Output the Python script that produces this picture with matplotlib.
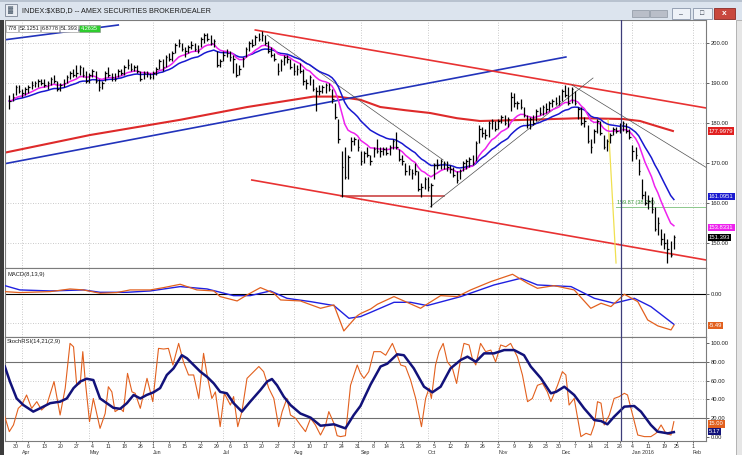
import numpy as np
import pandas as pd
import matplotlib
matplotlib.use('Agg')
import matplotlib.pyplot as plt
from matplotlib.patches import Rectangle
import matplotlib.transforms as mtrans

plt.rcParams['font.family'] = ['Liberation Sans', 'DejaVu Sans']

# ---------------- data ----------------
title = "INDEX:$XBD,D -- AMEX SECURITIES BROKER/DEALER"
data_row = ['778', '52.1251', '6.8778', '51.393', '4.2635']
start_date = '2015-03-26'
end_date = '2016-02-12'
anchor_date = '2015-03-30'
holidays = ['2015-04-03', '2015-05-25', '2015-07-03', '2015-09-07',
            '2015-11-26', '2015-12-25', '2016-01-01', '2016-01-18']

highs = [187, 187.5,
         189.5, 189.5, 188.5, 189,
         189.5, 190.5, 190.5, 191, 191,
         191, 190.5, 191.5, 192, 190.5,
         190, 191, 192, 193, 193.5,
         194.5, 194.5, 194, 193, 192.5,
         193.5, 193, 191, 190.5, 193,
         194, 192.5, 192.5, 193.5, 193.5,
         194.5, 196, 195, 194.5, 194.5,
         193, 193, 193, 192.5,
         193, 194, 196, 196, 197,
         197.5, 198, 200, 201, 200,
         199, 199.5, 200.5, 200, 199.5,
         201.5, 202.5, 202.5, 202, 201,
         198, 196, 198, 198.5,
         198, 197, 195, 194.5, 196.5,
         199, 200.5, 201, 202, 202.5,
         203, 202, 200.5, 199, 197.5,
         195, 196, 197, 197, 196,
         195, 194.5, 195, 193.5, 191,
         192, 191, 189, 189.5, 189.5,
         190, 190, 188.5, 185, 181,
         173, 174, 172, 176.5, 176.5,
         176, 173, 173, 174, 172,
         174, 176, 174, 174,
         174, 174.5, 176, 177.7, 173.5,
         172, 170, 169.5, 168.5, 170,
         168, 165, 166.5, 166.5, 165,
         170, 171, 171, 170.5, 170.5,
         169.5, 169, 168, 168.5, 170.5,
         171, 171.5, 172, 175.5, 179.5,
         179, 178.5, 180.5, 181, 180.5,
         181, 182, 182, 181.5, 187.7,
         187.5, 185.5, 186, 184, 182,
         181.5, 182, 183.5, 184, 184.5,
         185, 185.5, 186, 186.5,
         187, 188.5, 189.5, 189, 189,
         188, 184, 184, 181.5, 179.5,
         176, 178.5, 181, 180.5, 177,
         176, 177.5, 179, 179,
         180, 180.5, 180, 178.5,
         174.5, 174, 171, 166, 163,
         162, 161.5, 159, 156.5, 153.5,
         152.5, 151, 150.5, 152.1]

lows = [183.5, 185.5,
        187, 187.5, 186.5, 187,
        187.5, 188.5, 189, 189, 189.5,
        189, 188.5, 189.5, 190, 188,
        188, 189, 190, 191, 191.5,
        191.5, 192, 191.5, 190, 190,
        191.5, 190, 188, 188.5, 190.5,
        191.5, 190.5, 190.5, 191.5, 192,
        192, 193.5, 193, 193, 192.5,
        190.5, 191, 191.5, 191,
        191, 192, 193.5, 193, 194,
        195.5, 195.5, 197.5, 199, 198,
        196.5, 197.5, 198.5, 198, 197.5,
        199, 200, 200.5, 199.5, 199,
        194, 194, 195.5, 196.5,
        195.5, 192.5, 191.5, 192, 194,
        196.5, 198, 199, 199.5, 200.5,
        200.5, 199.5, 197.5, 196.5, 195.5,
        192, 193, 194.5, 195, 193.5,
        192, 192, 192.5, 189.5, 188.5,
        189.5, 188, 183, 187, 187.5,
        187.5, 188, 185, 181, 175,
        161.5, 166, 166, 173, 174.5,
        173, 169.5, 170, 171.5, 169.5,
        171.5, 172.5, 171.5, 172,
        172, 172, 173.5, 173.5, 170.5,
        169.5, 167, 167, 166, 167,
        163, 161.5, 163.5, 163, 159,
        166, 168.5, 168.5, 168.5, 168,
        167.5, 166.5, 165, 166, 168,
        168.5, 169, 169.5, 170.5, 175,
        176.5, 176, 176.5, 178.5, 178,
        178.5, 180, 179.5, 179, 183,
        184, 183.5, 183.5, 181.5, 178.7,
        178.5, 179.5, 180.5, 182, 182,
        182.5, 183, 184, 184.5,
        184.5, 185.5, 186.5, 184.5, 185,
        184.5, 181, 179.5, 179, 175,
        172.5, 175, 177.5, 177, 173.5,
        173, 175, 177, 177.5,
        177.5, 178, 177.5, 176,
        170.5, 171, 167, 161, 159.5,
        158.5, 157.5, 153, 152, 149.5,
        148.5, 145, 146.5, 148.5]

closes = [185.5, 186.5,
          189, 188, 187.5, 188.5,
          189, 189.5, 190, 190.5, 190,
          189.5, 190, 191, 190.5, 188.5,
          189.5, 190, 191.5, 192.5, 192,
          192.5, 194, 192, 190.5, 192,
          193, 190.5, 189, 190, 192.5,
          192, 191.5, 191, 193, 192.5,
          194, 194.5, 193.5, 194, 193,
          191, 192.5, 192.5, 191.5,
          192.5, 193.5, 195.5, 194, 196.5,
          196, 197.5, 199.5, 200, 198.5,
          198, 199, 199.5, 198.5, 198,
          201, 202, 201, 200, 200.5,
          194.5, 195.5, 197, 197.5,
          196.5, 196, 192, 193.5, 196,
          198.5, 200, 199.5, 201.5, 201,
          202, 200, 198, 197, 196,
          193, 195.5, 196.5, 196, 194,
          193, 193.5, 193, 190.5, 190,
          191.5, 188.5, 188, 188, 189,
          189.5, 188.5, 186, 181.5, 176,
          169, 166.5, 171.5, 175.5, 176,
          174, 170.5, 172.5, 172, 170.5,
          173.5, 173, 173, 173.5,
          172.5, 174, 175.5, 174, 171,
          170.5, 168, 168.5, 167.5, 168,
          163.5, 164, 166, 164, 164.5,
          169.5, 169.5, 170.5, 170, 169,
          168.5, 167, 165.7, 168, 170,
          170.5, 171, 170, 175, 178.5,
          177.5, 177, 180, 180.5, 178.5,
          180.5, 181.5, 180, 181, 186.5,
          185, 185, 184, 182, 179.5,
          181, 180, 183, 182.5, 184,
          183.5, 185, 185.5, 185,
          185.5, 188, 187, 185, 188.5,
          185, 183.5, 180, 180.5, 175.5,
          174, 178, 180.5, 177.5, 174,
          175.5, 177, 178.5, 178,
          178, 180, 178, 176.5,
          173, 172, 168, 162, 160,
          160.5, 158.5, 153.5, 155, 151,
          150, 148.5, 147.1, 151.393]

# long moving average (red): trading-day index / value
ma_long_day = [-3.3, 23.3, 51.5, 72.5, 93.2, 100.7, 107.9, 114.1, 121.9, 129.7,
               138.1, 145.3, 155.6, 176.6, 190.1, 195.4, 200.7, 205.7]
ma_long_val = [172.6, 177.0, 180.8, 184.0, 186.6, 186.6, 185.8, 184.0, 183.2, 182.5,
               181.2, 180.5, 180.7, 181.2, 181.0, 180.5, 179.2, 178.0]

macd_day = [-3.4, 1.3, 10.8, 17.0, 21.2, 26.4, 31.6, 35.8, 42.1, 46.3, 51.5, 56.7, 62.0,
            64.0, 69.3, 72.4, 76.6, 80.8, 82.9, 89.1, 95.4, 99.6, 102.7, 104.8, 106.9,
            108.0, 111.1, 113.2, 118.4, 121.5, 126.7, 133.0, 138.2, 142.4, 148.7, 155.5,
            160.2, 163.3, 168.5, 174.8, 180.0, 183.2, 186.3, 190.5, 194.7, 197.8, 201.0,
            205.1, 206.0]
macd_val = [0.47, 0.3, 0.47, 0.94, 0.77, 0.18, 0.3, 0.77, 0.77, 1.18, 1.77, 0.77, 0.59,
            -0.41, -1.18, -0.12, 1.18, 0.18, -1.0, -1.18, -2.48, -1.89, -6.49, -5.13, -3.8,
            -3.4, -2.6, -1.77, -0.41, -1.18, -2.48, -0.24, -0.41, 0.77, 2.24, 3.54,
            1.95, 1.06, 1.53, 0.77, -2.48, -1.59, -2.18, 0.0, -1.3, -4.54, -5.6,
            -6.31, -5.49]
signal_day = [-3.4, 1.3, 10.8, 21.2, 26.4, 34.8, 42.1, 51.5, 59.9, 68.2, 73.4, 79.7, 84.9,
              92.3, 99.6, 104.3, 107.9, 111.1, 118.4, 123.6, 128.8, 139.3, 149.7, 158.1,
              163.3, 173.8, 181.1, 187.3, 193.6, 198.8, 206.0]
signal_val = [1.53, 0.77, 0.59, 0.77, 0.35, 0.35, 0.59, 1.36, 0.94, -0.24, -0.24, 0.59, -0.71,
              -1.3, -2.0, -4.25, -3.95, -3.2, -1.42, -1.42, -2.0, -0.41, 1.65, 2.83,
              1.65, 1.36, -0.71, -1.59, -0.71, -2.18, -5.31]

srsi_day = [-3.4, -2.0, -0.7, 0.8, 1.9, 3.4, 5.0, 6.6, 8.1, 9.7, 12.0, 13.9, 15.5, 17.0, 18.1,
            19.1, 20.2, 21.0, 21.7, 23.1, 24.3, 26.4, 28.0, 29.0, 30.1, 31.1, 32.7, 33.7,
            35.0, 36.4, 37.4, 39.0, 41.1, 42.9, 44.7, 46.3, 47.8, 49.2, 51.0, 52.5, 54.1,
            55.7, 57.3, 58.8, 59.9, 61.4, 62.5, 64.0, 65.3, 67.2, 68.2, 69.5, 70.8, 72.4,
            74.5, 76.1, 77.6, 79.2, 80.8, 82.3, 83.4, 84.9, 86.0, 87.6, 89.1, 90.7, 92.3,
            93.8, 95.4, 97.0, 98.0, 99.6, 100.6, 101.7, 103.2, 104.8, 106.9, 107.9, 109.0,
            110.5, 112.1, 114.2, 115.8, 117.9, 119.4, 120.5, 122.0, 123.6, 125.2, 127.0,
            128.3, 129.4, 130.1, 131.4, 132.5, 133.8, 135.1, 136.7, 138.0, 139.3, 140.3,
            141.9, 142.9, 144.0, 145.5, 147.1, 148.7, 150.2, 151.8, 153.4, 154.9, 157.0,
            158.6, 160.2, 161.7, 163.3, 164.9, 166.4, 167.5, 169.6, 171.1, 172.2, 173.2,
            174.8, 176.9, 178.5, 180.0, 181.1, 182.1, 183.2, 184.2, 185.8, 187.3, 188.9,
            190.5, 191.5, 193.1, 194.7, 196.8, 198.8, 200.4, 202.0, 203.5, 205.1, 206.0]
srsi_val = [21.6, 5.7, 12.8, 30.5, 34, 44.7, 30.5, 37.6, 28.7, 34, 59, 23.4, 52, 99.6, 96,
            55, 57, 90.8, 62.4, 16.3, 41, 9.2, 25, 53.5, 48, 27, 30.5, 27,
            67.7, 48, 46.5, 30.5, 62.4, 37.6, 94.3, 93.6, 94.3, 76.6, 99.6, 80, 66,
            66, 41, 89, 66, 41, 48, 11, 46.5, 34, 43, 11, 27, 62.4,
            69.5, 75, 69.5, 52, 41, 11, 27, 41, 23.4, 19.9, 12.8, 5.7, 19.9,
            12.8, 2.1, 12.8, 27, 14.5, 1.4, 0.4, 1.4, 55, 76.6, 67.7, 62.4,
            69.5, 90.8, 90.8, 87, 99.6, 87, 76.6, 75, 60.6, 41, 11,
            41, 52, 41, 76.6, 90.8, 99.6, 80, 73, 57, 83.7, 99.6,
            97.9, 83.7, 76.6, 99.6, 90.8, 92.5, 80, 97.9, 96, 99.6, 85.5,
            66, 37.6, 41, 55, 57, 48, 37.6, 55, 69.5, 66, 34,
            41, 0.4, 3.9, 2.1, 12.8, 37.6, 36, 12.8, 23.4, 41, 43,
            46.5, 44.7, 23.4, 2.1, 0.4, 0.4, 3.9, 12.8, 3.9, 2.1, 16.3]
srsi_sig_day = [-3.4, -1.8, 0.3, 2.4, 5.5, 7.6, 10.8, 13.9, 16.0, 18.1, 20.2, 22.2, 24.3, 26.4,
                28.5, 30.6, 32.7, 34.8, 36.9, 39.0, 41.0, 43.1, 45.2, 47.3, 49.4, 52.0, 53.6,
                55.7, 57.8, 59.9, 62.0, 64.0, 66.1, 68.2, 70.8, 73.4, 76.6, 78.7, 80.2, 81.8,
                83.9, 86.0, 89.1, 92.3, 95.4, 99.6, 103.2, 105.8, 107.9, 109.0, 111.1, 114.2,
                116.3, 119.4, 121.5, 124.6, 127.8, 130.4, 133.0, 136.1, 139.3, 141.4, 144.0,
                146.6, 149.7, 152.9, 156.0, 159.1, 161.2, 164.4, 167.5, 169.1, 171.7, 174.8,
                177.9, 181.1, 183.2, 185.2, 187.3, 190.5, 193.6, 195.7, 198.8, 200.9, 204.1,
                206.0]
srsi_sig_val = [75, 59, 41, 34, 27, 30.5, 36, 37.6, 41, 52, 59, 62, 60.6, 41,
                36, 31, 30, 36, 44.7, 41, 44.7, 47.5, 52, 66, 73, 87, 83.7,
                76.6, 69.5, 64, 57, 48, 46.5, 36, 27, 37.6, 50, 59, 61.7, 55,
                43, 34, 25, 20.6, 12, 13.5, 9.2, 23.4, 33, 41, 56, 75,
                78, 88, 87, 73, 53.5, 47.5, 53.5, 73, 82, 85.5, 80,
                89, 89, 92.5, 92.5, 87, 75, 62.4, 46.5, 48, 53.5, 44.7,
                30.5, 18, 17, 13.5, 21.6, 32.3, 33, 27, 12.8, 5.7, 3.9,
                5.2]

# annotation lines drawn on the price panel: (day0, price0, day1, price1)
blue_trend_low = (-3.9, 169.75, 172.2, 196.5)
blue_trend_high = (-3.9, 200.75, 32.1, 204.5)
red_channel_up = (75.0, 203.25, 216.1, 183.75)
red_channel_dn = (73.9, 165.75, 216.1, 145.75)
red_support = (101.7, 161.75, 134.0, 161.75)
thin_line_1 = (78.7, 202.0, 133.8, 170.75)
thin_line_2 = (129.7, 159.0, 180.7, 191.25)
thin_line_3 = (174.1, 189.5, 216.4, 168.75)
yellow_line = (185.4, 180.75, 187.9, 145.0)
fib_level = 159.1
fib_text = '159.87 (38.2%)'
fib_start = 187.9
crosshair_day = 189.3

last_ma_long = 177.9979
last_ema20 = 161.0951
last_ema10 = 153.8331
last_close = 151.393
last_macd = -5.49
last_srsi = 15.00
last_srsi_sig = 5.17

price_ticks = [150, 160, 170, 180, 190, 200]
stoch_ticks = [100, 80, 60, 40, 20, 0]

# ---------------- calendar ----------------
bd = pd.bdate_range(start_date, end_date)
bd = bd[~bd.isin(pd.to_datetime(holidays))]
pos0 = bd.get_loc(pd.Timestamp(anchor_date))
day_index = np.arange(len(bd)) - pos0
bar_days = day_index[:len(closes)]

week_days, week_labels, month_days, month_labels = [], [], [], []
for i in range(1, len(bd)):
    d = bd[i]
    if d > pd.Timestamp('2016-02-01') or day_index[i] < 0:
        continue
    if d.weekday() < bd[i - 1].weekday() or (d - bd[i - 1]).days > 3:
        week_days.append(day_index[i]); week_labels.append(str(d.day))
    if d.month != bd[i - 1].month:
        month_days.append(day_index[i])
        month_labels.append(d.strftime('%b') + (' 2016' if d.month == 1 else ''))

c = pd.Series(closes, dtype=float)
ema10 = c.ewm(span=10, adjust=False).mean()
ema20 = c.ewm(span=20, adjust=False).mean()

# ---------------- figure ----------------
W, H = 742, 455
fig = plt.figure(figsize=(W / 100, H / 100), dpi=100)
fig.patch.set_facecolor('white')

def fx(x):
    return x / W

def fy(y):
    return 1 - y / H

def frect(x0, y0, x1, y1, **kw):
    fig.patches.append(Rectangle((fx(x0), fy(y1)), (x1 - x0) / W, (y1 - y0) / H,
                                 transform=fig.transFigure, **kw))

# window chrome
frect(0, 0, W, 20, fc='#dce4ee', ec='none', zorder=0)
frect(0, 0, W, 2, fc='#b8c2cf', ec='none', zorder=0)
frect(0, 20, 4, H, fc='#3c3c3c', ec='none', zorder=5)
frect(736, 20, W, H, fc='#e6e6e6', ec='#a8a8a8', lw=0.6, zorder=5)
frect(5, 4, 17, 16, fc='#e8ecf2', ec='#7a8494', lw=0.6, zorder=1)
fig.text(fx(11), fy(10), '\u2593', fontsize=5, color='#506070', ha='center', va='center')
fig.text(fx(22), fy(10.5), title, fontsize=5.2, color='#1e1e1e', va='center', ha='left')
frect(632, 10, 649, 17, fc='#b9bec8', ec='#8c94a0', lw=0.5, zorder=1)
frect(650, 10, 667, 17, fc='#b9bec8', ec='#8c94a0', lw=0.5, zorder=1)
frect(672, 8, 690, 19, fc='#eef2f8', ec='#8a96aa', lw=0.6, zorder=1)
frect(693, 8, 712, 19, fc='#eef2f8', ec='#8a96aa', lw=0.6, zorder=1)
frect(714, 8, 735, 19, fc='#c8483e', ec='#8e2a24', lw=0.6, zorder=1)
fig.text(fx(681), fy(14.5), '\u2013', fontsize=5, color='#303848', ha='center', va='center')
fig.text(fx(702.5), fy(13.5), '\u25a1', fontsize=5, color='#303848', ha='center', va='center')
fig.text(fx(724.5), fy(13.5), 'x', fontsize=6, color='white', ha='center', va='center',
         fontweight='bold')

# panels
L, R = 5, 706
day_per_px = 1 / 3.195
xlim = ((L - 15.7) * day_per_px, (R - 15.7) * day_per_px)
ax1 = fig.add_axes([fx(L), fy(268), (R - L) / W, 248 / H])
ax2 = fig.add_axes([fx(L), fy(337), (R - L) / W, 69 / H])
ax3 = fig.add_axes([fx(L), fy(441), (R - L) / W, 104 / H])

grid_kw = dict(color='#b8b8b8', lw=0.6, ls=(0, (1, 2)), zorder=0)
for ax in (ax1, ax2, ax3):
    ax.set_xlim(*xlim)
    ax.set_facecolor('white')
    for s in ax.spines.values():
        s.set_color('#7c7c7c'); s.set_linewidth(0.8)
    ax.yaxis.tick_right()
    ax.tick_params(axis='y', length=2, pad=1.5, labelsize=4.2, colors='#222222',
                   width=0.5, left=False)
    ax.tick_params(axis='x', bottom=False, labelbottom=False)
    for d in month_days:
        ax.axvline(d, **grid_kw)
    ax.axvline(crosshair_day, color='#3d3d7a', lw=0.9, zorder=6)

# ----- price panel -----
ax1.set_ylim(143.75, 205.75)
ax1.set_yticks(price_ticks)
ax1.set_yticklabels(['%.2f' % v for v in price_ticks])
for v in price_ticks:
    ax1.axhline(v, **grid_kw)

def seg(ax, s, **kw):
    ax.plot([s[0], s[2]], [s[1], s[3]], **kw)

ax1.plot(ma_long_day, ma_long_val, color='#de2a2a', lw=1.5, zorder=2)
seg(ax1, blue_trend_low, color='#2233bb', lw=1.2, zorder=2)
seg(ax1, blue_trend_high, color='#2233bb', lw=1.2, zorder=2)
seg(ax1, red_channel_up, color='#e83232', lw=1.2, zorder=2)
seg(ax1, red_channel_dn, color='#e83232', lw=1.2, zorder=2)
seg(ax1, red_support, color='#c83434', lw=1.1, zorder=2)
for s in (thin_line_1, thin_line_2, thin_line_3):
    seg(ax1, s, color='#505050', lw=0.5, zorder=2)
seg(ax1, yellow_line, color='#f0e050', lw=0.9, zorder=2)
ax1.plot([fib_start, xlim[1]], [fib_level, fib_level], color='#8cc88c', lw=0.7, zorder=2)
ax1.text(fib_start + 0.3, fib_level + 0.35, fib_text, fontsize=4, color='#3c9a3c',
         ha='left', va='bottom', zorder=3)

ax1.plot(bar_days, ema20, color='#1818d0', lw=1.1, zorder=3)
ax1.plot(bar_days, ema10, color='#ee22ee', lw=1.1, zorder=3)
ax1.vlines(bar_days, lows, highs, color='black', lw=0.9, zorder=4)
ax1.hlines(closes, bar_days, bar_days + 0.5, color='black', lw=0.9, zorder=4)

def box(ax, yval, text, fc, tc='white'):
    ax.text(1.004, yval, text, transform=mtrans.blended_transform_factory(ax.transAxes, ax.transData),
            fontsize=4.2, color=tc, ha='left', va='center', zorder=10, clip_on=False,
            bbox=dict(boxstyle='square,pad=0.2', fc=fc, ec='none'))

box(ax1, last_ma_long, '%.4f' % last_ma_long, '#e02020')
box(ax1, last_ema20 + 0.6, '%.4f' % last_ema20, '#1a1ad0')
box(ax1, last_ema10, '%.4f' % last_ema10, '#ee22ee')
box(ax1, last_close - 0.1, '%.3f' % last_close, '#000000')

# data row (top-left)
cells = [(6, 18), (19, 40), (41, 59), (60, 78), (79, 100)]
for (x0, x1), t in zip(cells, data_row):
    green = t == data_row[-1]
    frect(x0, 25, x1, 32, fc='#2ecc2e' if green else 'white', ec='#8a8a8a', lw=0.4, zorder=20)
    fig.text(fx((x0 + x1) / 2), fy(28.7), t, fontsize=4, ha='center', va='center',
             color='white' if green else '#202020', zorder=21)

# ----- MACD panel -----
ax2.set_ylim(-7.56, 4.65)
ax2.set_yticks([0])
ax2.set_yticklabels(['0.00'])
ax2.axhline(0, color='black', lw=0.8, zorder=1)
ax2.axhline(-5, **grid_kw)
ax2.plot(signal_day, signal_val, color='#2020e0', lw=1.0, zorder=3)
ax2.plot(macd_day, macd_val, color='#e2601e', lw=0.9, zorder=4)
ax2.text(0.003, 0.94, 'MACD(8,13,9)', transform=ax2.transAxes, fontsize=4.2,
         color='#202020', ha='left', va='top')
box(ax2, last_macd, '%.2f' % last_macd, '#e2601e')

# ----- StochRSI panel -----
ax3.set_ylim(-4.26, 106.4)
ax3.set_yticks(stoch_ticks)
ax3.set_yticklabels(['%.2f' % v for v in stoch_ticks])
ax3.axhline(80, color='#707070', lw=0.8, zorder=1)
ax3.axhline(20, color='#707070', lw=0.8, zorder=1)
ax3.axhline(60, **grid_kw)
ax3.axhline(40, **grid_kw)
ax3.plot(srsi_day, srsi_val, color='#e2601e', lw=0.8, zorder=3)
ax3.plot(srsi_sig_day, srsi_sig_val, color='#12127a', lw=1.8, zorder=4)
ax3.text(0.003, 0.985, 'StochRSI(14,21(2,9)', transform=ax3.transAxes, fontsize=4.2,
         color='#202020', ha='left', va='top')
box(ax3, 14.0, '%.2f' % last_srsi, '#e2601e')
box(ax3, 5.8, '%.2f' % last_srsi_sig, '#12127a')

ax3.set_xticks(week_days)
ax3.set_xticklabels(week_labels)
ax3.tick_params(axis='x', bottom=True, labelbottom=True, length=1.5, width=0.5, pad=0.3,
                labelsize=3.8, colors='#303030')
btrans = mtrans.blended_transform_factory(ax3.transData, ax3.transAxes)
for d, m in zip(month_days, month_labels):
    ax3.text(d, -0.108, m, transform=btrans, fontsize=3.8, color='#303030',
             ha='left', va='center', clip_on=False)

fig.savefig('out.png', dpi=100, facecolor='white')
